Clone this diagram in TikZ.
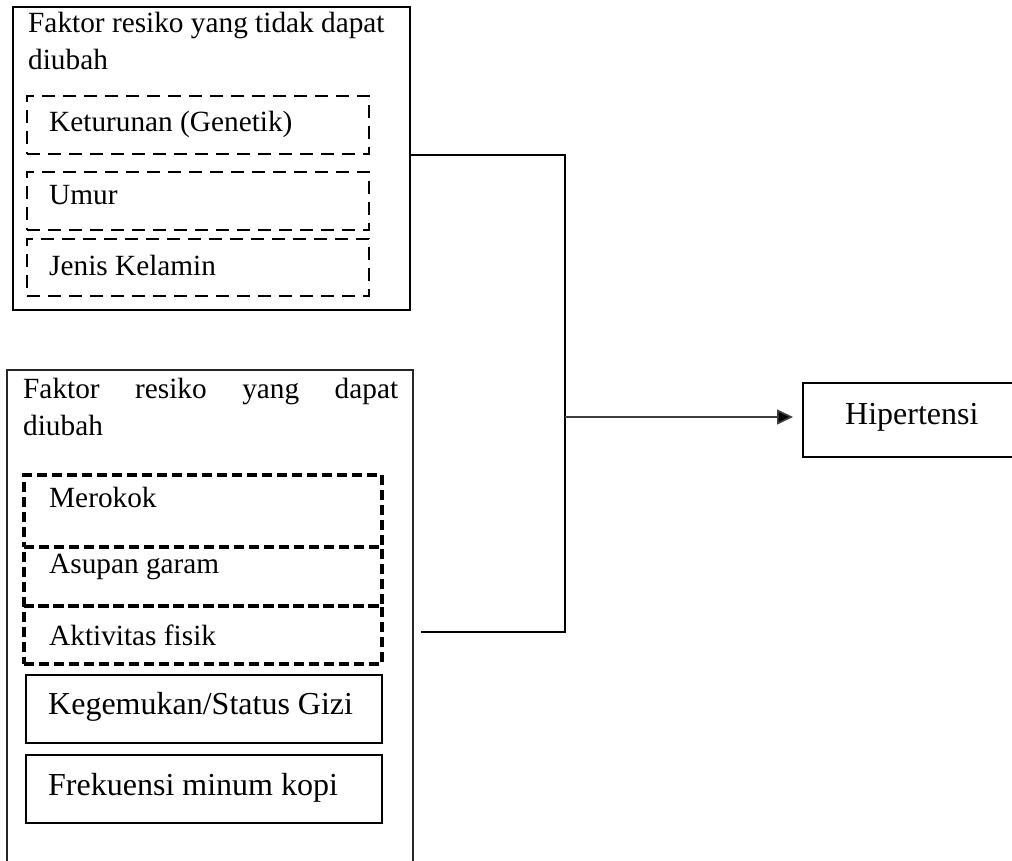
\documentclass[tikz,border=0pt]{standalone}
\usepackage{fontspec}
\setmainfont{Liberation Serif}
\usetikzlibrary{arrows.meta}
\tikzset{
  frame/.style={draw, line width=2.3pt, inner sep=0pt, outer sep=0pt, anchor=north west},
  thinframe/.style={draw=black!85, line width=1.3pt, inner sep=0pt, outer sep=0pt, anchor=north west},
  dboxa/.style={draw, line width=2.5pt, dash pattern=on 13pt off 8pt, inner sep=0pt, outer sep=0pt, anchor=north west},
  dboxb/.style={draw, line width=3.2pt, dash pattern=on 10pt off 5pt, inner sep=0pt, outer sep=0pt, anchor=north west},
  sbox/.style={draw, line width=2.6pt, inner sep=0pt, outer sep=0pt, anchor=north west},
  txt/.style={inner sep=0pt, anchor=base west, font=\fontsize{29.3}{37}\selectfont},
  bigtxt/.style={inner sep=0pt, anchor=base west, font=\fontsize{32}{38}\selectfont},
  conn/.style={line width=2.3pt},
  arr/.style={line width=1.6pt, draw=black!75, -{Triangle[length=16pt,width=15pt,fill=black]}}
}
\begin{document}
\begin{tikzpicture}[x=1pt,y=-1pt]
\clip (0,0) rectangle (1012,861);
\useasboundingbox (0,0) rectangle (1012,861);
% top group
\node[frame, minimum width=397pt, minimum height=303pt] (topbox) at (13,7) {};
\node[txt] (toptitle) at (28,33) {\vtop{\hbox{Faktor resiko yang tidak dapat}\hbox{diubah}}};
\node[dboxa, minimum width=342pt, minimum height=58pt] (ket) at (27,96) {};
\node[txt] (kett) at (49,132) {Keturunan (Genetik)};
\node[dboxa, minimum width=342pt, minimum height=58pt] (umur) at (27,172) {};
\node[txt] (umurt) at (49,205) {Umur};
\node[dboxa, minimum width=342pt, minimum height=57pt] (jenis) at (27,239) {};
\node[txt] (jenist) at (49,275) {Jenis Kelamin};
% bottom group
\node[thinframe, minimum width=406pt, minimum height=520pt] (botbox) at (7,370) {};
\node[txt] (bottitle) at (23,398) {\vtop{\hbox to 375pt{Faktor\hfill resiko\hfill yang\hfill dapat}\hbox{diubah}}};
\node[dboxb, minimum width=358pt, minimum height=72pt] (mer) at (24,475) {};
\node[txt] (mert) at (49,507) {Merokok};
\node[dboxb, minimum width=358pt, minimum height=59pt] (asu) at (24,547) {};
\node[txt] (asut) at (49,573) {Asupan garam};
\node[dboxb, minimum width=358pt, minimum height=58pt] (akt) at (24,606) {};
\node[txt] (aktt) at (49,645) {Aktivitas fisik};
\node[sbox, minimum width=356pt, minimum height=68pt] (keg) at (26,675) {};
\node[bigtxt] (kegt) at (48,714) {Kegemukan/Status Gizi};
\node[sbox, minimum width=356pt, minimum height=68pt] (fre) at (26,755) {};
\node[bigtxt] (fret) at (48,795) {Frekuensi minum kopi};
% outcome
\node[frame, minimum width=230pt, minimum height=74pt] (hip) at (803,383) {};
\node[bigtxt] (hipt) at (845,424) {Hipertensi};
% connectors
\coordinate (j1) at (565,155);
\coordinate (j2) at (565,632);
\coordinate (j3) at (421,632);
\coordinate (j4) at (565,417);
\draw[conn] (topbox.east |- j1) -- (j1) -- (j2) -- (j3);
\draw[arr, shorten >=10pt] (j4) -- (hip.west |- j4);
\end{tikzpicture}
\end{document}
